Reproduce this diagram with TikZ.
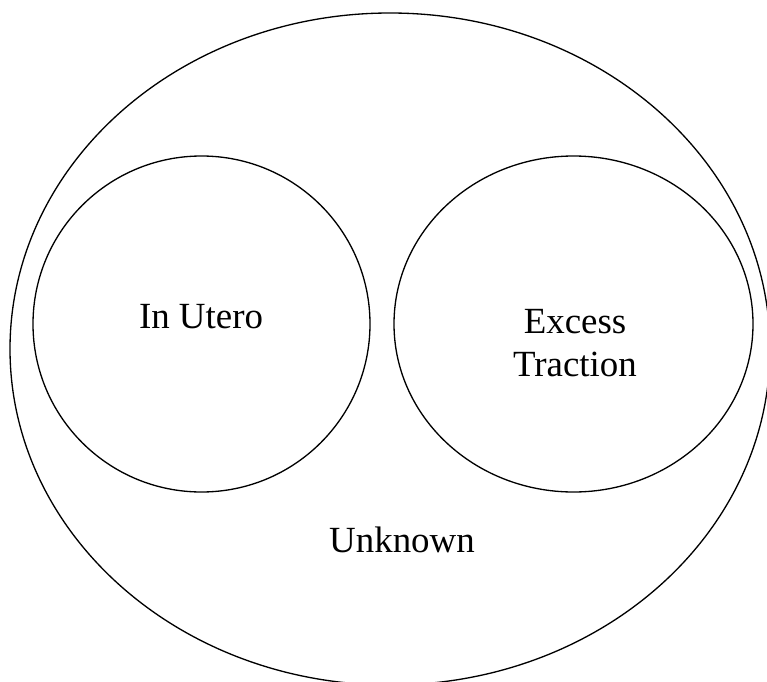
\documentclass[tikz,border=0pt]{standalone}
\usepackage{fontspec}
\setmainfont{Liberation Serif}
\begin{document}
\begin{tikzpicture}[x=.02cm, y=.02cm,
  region/.style={line width=0.75pt},
  causetext/.style={font=\fontsize{21pt}{24.4pt}\selectfont, inner sep=0pt, align=center}]
\useasboundingbox (0,0) rectangle (767,681);
% outer region and the two causes
\draw[region] (390,332) ellipse [x radius=380, y radius=336];
\draw[region] (201.5,357) ellipse [x radius=168.5, y radius=168];
\draw[region] (573.5,357) ellipse [x radius=179.5, y radius=168];
\node[causetext, anchor=base] (utero) at (201,353) {In Utero};
\node[causetext] (traction) at (575,337.5) {Excess\\Traction};
\node[causetext, anchor=base] (unknown) at (402,129) {Unknown};
\end{tikzpicture}
\end{document}
